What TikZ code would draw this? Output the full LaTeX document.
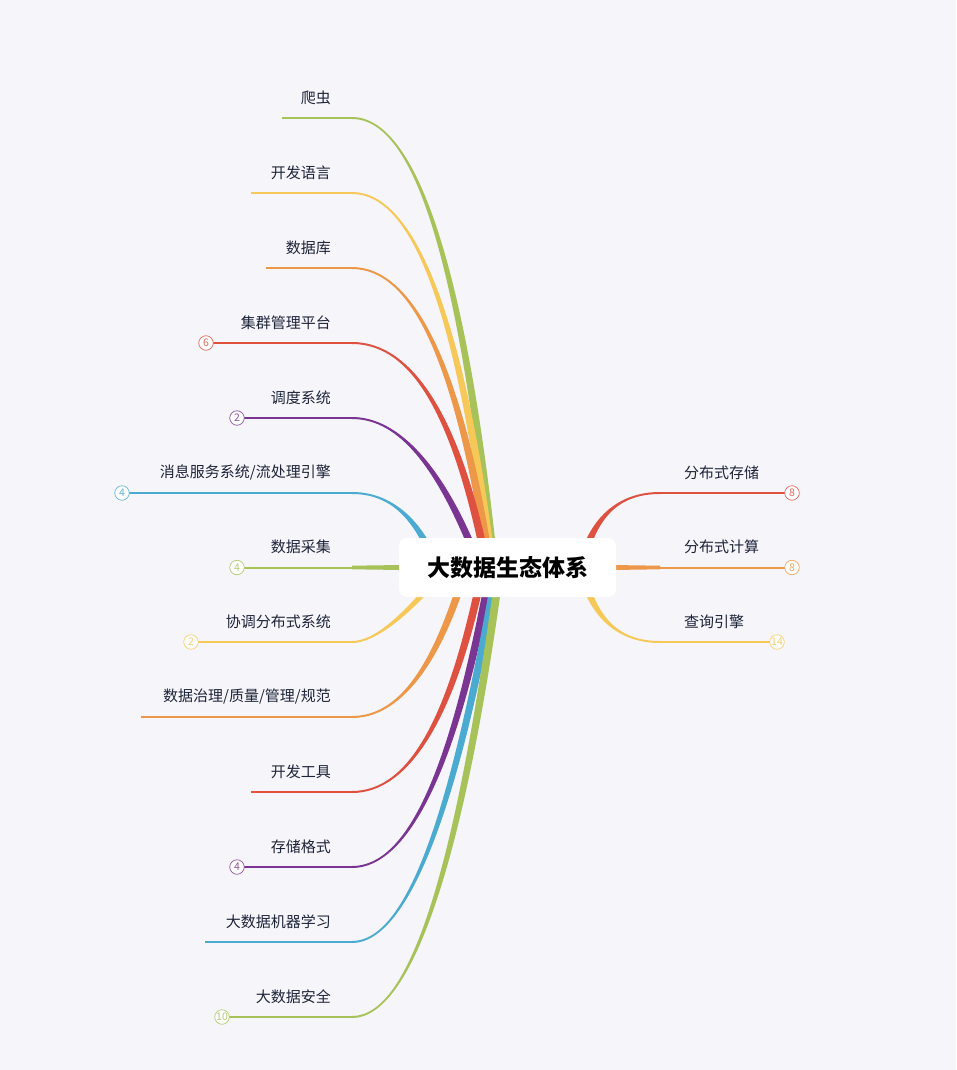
\documentclass[tikz,border=0pt]{standalone}
\usepackage{fontspec}
\setmainfont{Noto Sans CJK SC}
\usepackage{tikz}
\usetikzlibrary{calc,positioning}
\definecolor{mapbg}{RGB}{245,245,250}
\definecolor{maptext}{RGB}{30,36,56}
\definecolor{mapred}{RGB}{222,80,64}
\definecolor{maporange}{RGB}{236,152,72}
\definecolor{mapyellow}{RGB}{245,200,88}
\definecolor{mapgreen}{RGB}{168,194,90}
\definecolor{mappurple}{RGB}{122,52,146}
\definecolor{mapblue}{RGB}{74,170,208}

\tikzset{
  rootbox/.style={fill=white, rounded corners=8pt, minimum width=217pt, minimum height=59pt,
    inner sep=0pt, font=\fontsize{23}{26}\selectfont\bfseries},
  leaf/.style={text=maptext, inner sep=0pt, font=\fontsize{15}{18}\selectfont},
  underline/.style={line width=2pt},
  badge/.style={circle, draw=#1!85, fill=white, line width=0.7pt, minimum size=14.5pt,
    inner sep=0pt, text=#1!85, font=\fontsize{10.5}{11}\selectfont},
}

\begin{document}
\begin{tikzpicture}[x=1pt,y=-1pt]
  \fill[mapbg] (0,0) rectangle (956,1070);
  \coordinate (hub) at (507.5,567.5);

  % left side branches
  \foreach \yy/\cx/\ex/\col/\lx/\lab [count=\i] in {
      118/448/494/mapgreen/282/{爬虫},
      193/446/492/mapyellow/251/{开发语言},
      268/445/490/maporange/266/{数据库},
      343/443/487/mapred/206/{集群管理平台},
      418/423/480/mappurple/237/{调度系统},
      493/409/437/mapblue/122/{消息服务系统/流处理引擎},
      642/385/446/mapyellow/191/{协调分布式系统},
      717/422/466/maporange/141/{数据治理/质量/管理/规范},
      792/438/483/mapred/251/{开发工具},
      867/437/491/mappurple/237/{存储格式},
      942/433/497/mapblue/205/{大数据机器学习},
      1017/440/500/mapgreen/222/{大数据安全}}{
    \pgfmathsetmacro\s{\yy<567 ? -1 : 1}
    \pgfmathsetmacro\t{\yy<567 ? 1 : -1}
    \coordinate (s\i) at (352,\yy);
    \coordinate (c\i) at (\cx,\yy);
    \coordinate (e\i) at (\ex,567.5);
    \fill[\col] ($(s\i)+(0,\s)$) .. controls ($(s\i)!2/3!(c\i)+(0,\s)$) and ($(e\i)!2/3!(c\i)+(4,0)$) .. ($(e\i)+(4,0)$)
      -- ($(e\i)+(-4,0)$) .. controls ($(e\i)!2/3!(c\i)+(-4,0)$) and ($(s\i)!2/3!(c\i)+(0,\t)$) .. ($(s\i)+(0,\t)$) -- cycle;
    \draw[underline,\col] (\lx,\yy) -- (s\i);
    \node[leaf,anchor=east] (lab\i) at (331,\yy-20.5) {\lab};
  }

  % straight branch on the left
  \coordinate (sl) at (352,567.5);
  \fill[mapgreen] ($(sl)+(0,-1.8)$) -- ($(hub)+(0,-4)$) -- ($(hub)+(0,4)$) -- ($(sl)+(0,1.8)$) -- cycle;
  \draw[underline,mapgreen] (237,567.5) -- (sl);
  \node[leaf,anchor=east] (labmid) at (331,547) {数据采集};

  % right side branches
  \foreach \yy/\cx/\ex/\col/\rx/\lab [count=\i] in {
      493/597/581/mapred/792/{分布式存储},
      642/597/581/mapyellow/777/{查询引擎}}{
    \pgfmathsetmacro\s{\yy<567 ? -1 : 1}
    \pgfmathsetmacro\t{\yy<567 ? 1 : -1}
    \coordinate (rs\i) at (660,\yy);
    \coordinate (rc\i) at (\cx,\yy);
    \coordinate (re\i) at (\ex,567.5);
    \fill[\col] ($(rs\i)+(0,\s)$) .. controls ($(rs\i)!2/3!(rc\i)+(0,\s)$) and ($(re\i)!2/3!(rc\i)+(-4,0)$) .. ($(re\i)+(-4,0)$)
      -- ($(re\i)+(4,0)$) .. controls ($(re\i)!2/3!(rc\i)+(4,0)$) and ($(rs\i)!2/3!(rc\i)+(0,\t)$) .. ($(rs\i)+(0,\t)$) -- cycle;
    \draw[underline,\col] (rs\i) -- (\rx,\yy);
    \node[leaf,anchor=west] (rlab\i) at (684,\yy-20.5) {\lab};
  }

  % straight branch on the right
  \coordinate (sr) at (660,567.5);
  \fill[maporange] ($(sr)+(0,-1.8)$) -- ($(hub)+(0,-4)$) -- ($(hub)+(0,4)$) -- ($(sr)+(0,1.8)$) -- cycle;
  \draw[underline,maporange] (sr) -- (792,567.5);
  \node[leaf,anchor=west] (rlabmid) at (684,547) {分布式计算};

  % collapsed-children counters
  \foreach \bx/\by/\col/\num [count=\k] in {
      206/343/mapred/6, 237/418/mappurple/2, 122/493/mapblue/4,
      237/567.5/mapgreen/4, 191/642/mapyellow/2, 237/867/mappurple/4,
      222/1017/mapgreen/10, 792/493/mapred/8, 792/567.5/maporange/8,
      777/642/mapyellow/14}
    \node[badge=\col] (badge\k) at (\bx,\by) {\num};

  \node[rootbox] (root) at (hub) {大数据生态体系};
\end{tikzpicture}
\end{document}
